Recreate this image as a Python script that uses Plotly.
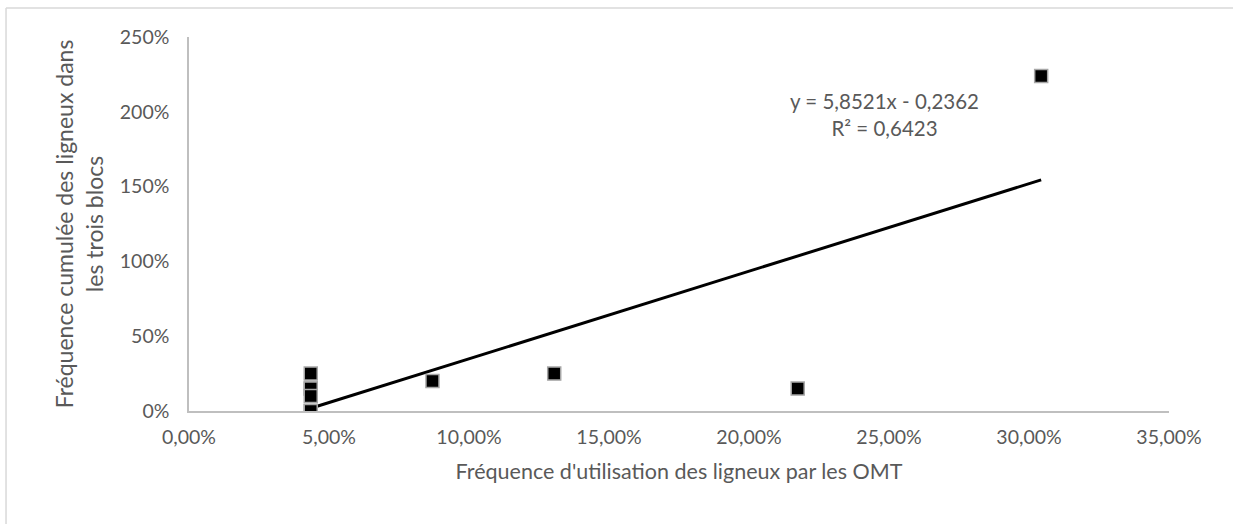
import numpy as np
import plotly.graph_objects as go

# Data
x_usage = [0.043478, 0.043478, 0.043478, 0.043478, 0.043478, 0.043478,
           0.086957, 0.130435, 0.217391, 0.304348]
y_cumul = [0.25, 0.15, 0.15, 0.10, 0.0, 0.0, 0.20, 0.25, 0.15, 2.24]

x_ticks = [0, 0.05, 0.10, 0.15, 0.20, 0.25, 0.30, 0.35]
y_ticks = [0, 0.5, 1.0, 1.5, 2.0, 2.5]

x_title = "Fréquence d'utilisation des ligneux par les OMT"
y_title = "Fréquence cumulée des ligneux dans<br>les trois blocs"

# Linear trendline (least squares)
slope, intercept = np.polyfit(x_usage, y_cumul, 1)
ss_res = np.sum((np.array(y_cumul) - (slope * np.array(x_usage) + intercept)) ** 2)
ss_tot = np.sum((np.array(y_cumul) - np.mean(y_cumul)) ** 2)
r2 = 1 - ss_res / ss_tot
x_line = [min(x_usage), max(x_usage)]
y_line = [slope * v + intercept for v in x_line]

def fr(v, d):
    return f"{v:.{d}f}".replace(".", ",")

eq_text = f"y = {fr(slope, 4)}x - {fr(-intercept, 4)}<br>R² = {fr(r2, 4)}"

FONT = "Lato"
GREY = "#595959"
AXIS = "#BFBFBF"

fig = go.Figure()
fig.add_trace(go.Scatter(
    x=x_line, y=y_line, mode="lines",
    line=dict(color="black", width=3), hoverinfo="skip", showlegend=False))
fig.add_trace(go.Scatter(
    x=x_usage, y=y_cumul, mode="markers",
    marker=dict(symbol="square", size=13, color="black",
                line=dict(color="#A6A6A6", width=1.5)),
    showlegend=False))

fig.add_annotation(
    x=0.2485, y=1.98, xref="x", yref="y", text=eq_text, showarrow=False,
    font=dict(family=FONT, size=20.5, color=GREY), align="center")

# outer chart border (only top and left edges visible)
fig.add_shape(type="line", xref="paper", yref="paper",
              x0=-0.1867, x1=1.2, y0=1.0775, y1=1.0775,
              line=dict(color="#D9D9D9", width=1.5))
fig.add_shape(type="line", xref="paper", yref="paper",
              x0=-0.1867, x1=-0.1867, y0=1.0775, y1=-0.5,
              line=dict(color="#D9D9D9", width=1.5))

fig.update_layout(
    width=1233, height=524,
    margin=dict(l=189, r=64, t=37, b=113),
    paper_bgcolor="white", plot_bgcolor="white",
    separators=", ",
    font=dict(family=FONT, color=GREY, size=20),
)
fig.update_xaxes(
    range=[0, 0.35], tickvals=x_ticks, tickformat=".2%",
    showgrid=False, zeroline=False, showline=True, linecolor=AXIS, linewidth=1.5,
    ticks="outside", ticklen=8, tickcolor="rgba(0,0,0,0)",
    tickfont=dict(family=FONT, size=19.5, color=GREY),
    title=dict(text=x_title, font=dict(family=FONT, size=21.5, color=GREY), standoff=17),
)
fig.update_yaxes(
    range=[0, 2.5], tickvals=y_ticks, tickformat=".0%",
    showgrid=False, zeroline=False, showline=True, linecolor=AXIS, linewidth=1.5,
    ticks="outside", ticklen=14, tickcolor="rgba(0,0,0,0)",
    tickfont=dict(family=FONT, size=19.5, color=GREY),
    title=dict(text=y_title, font=dict(family=FONT, size=23, color=GREY), standoff=10),
)

fig.write_html("out.html", config={"displayModeBar": False},
               post_script="document.body.style.margin='0';")
